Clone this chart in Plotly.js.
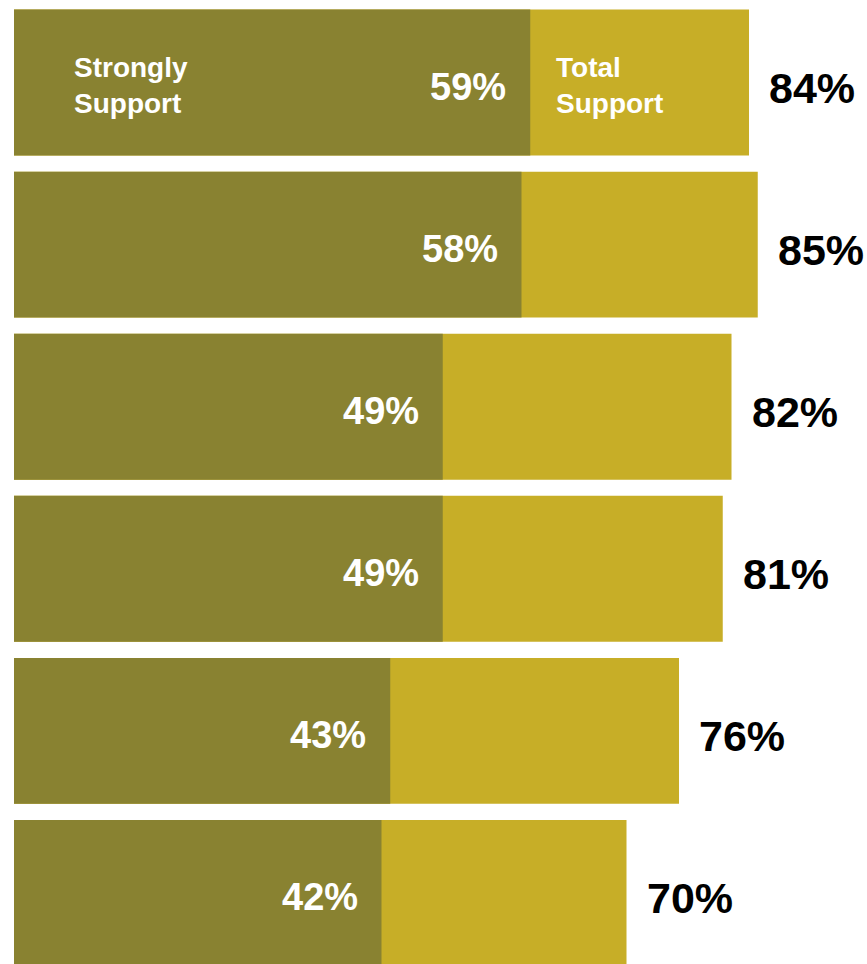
<!DOCTYPE html>
<html>
<head>
<meta charset="utf-8">
<script src="https://cdn.plot.ly/plotly-3.0.1.min.js"></script>
<style>html,body{margin:0;padding:0;background:#fff;}#chart{width:867px;height:964px;}</style>
</head>
<body>
<div id="chart"></div>
<script>
const rows = [0, 1, 2, 3, 4, 5];
const stronglySupport = [59, 58, 49, 49, 43, 42];
const totalSupport = [84, 85, 82, 81, 76, 70];
const seriesNames = ["Strongly Support", "Total Support"];

const colStrong = "#898231";
const colTotal = "#C7AE27";
const font = "Arial, 'Liberation Sans', sans-serif";

const traces = [
  {type: "bar", orientation: "h", y: rows, x: totalSupport, name: seriesNames[1],
   marker: {color: colTotal, line: {width: 0}}, width: 0.9, hoverinfo: "skip"},
  {type: "bar", orientation: "h", y: rows, x: stronglySupport, name: seriesNames[0],
   marker: {color: colStrong, line: {width: 0}}, width: 0.9, hoverinfo: "skip"}
];

const annotations = [];
rows.forEach((r, i) => {
  annotations.push({x: stronglySupport[i], y: r, xref: "x", yref: "y", xanchor: "right", yanchor: "middle",
    xshift: -22, yshift: -4, showarrow: false, text: "<b>" + stronglySupport[i] + "%</b>",
    font: {family: font, size: 38, color: "#ffffff"}});
  annotations.push({x: totalSupport[i], y: r, xref: "x", yref: "y", xanchor: "left", yanchor: "middle",
    xshift: 18, yshift: -5, showarrow: false, text: "<b>" + totalSupport[i] + "%</b>",
    font: {family: font, size: 43, color: "#000000"}});
});
annotations.push({x: 0, y: rows[0], xref: "x", yref: "y", xanchor: "left", yanchor: "middle", align: "left",
  xshift: 58, yshift: -3, showarrow: false, text: "<b>Strongly<br>Support</b>",
  font: {family: font, size: 28, color: "#ffffff"}});
annotations.push({x: stronglySupport[0], y: rows[0], xref: "x", yref: "y", xanchor: "left", yanchor: "middle", align: "left",
  xshift: 24, yshift: -3, showarrow: false, text: "<b>Total<br>Support</b>",
  font: {family: font, size: 28, color: "#ffffff"}});

const layout = {
  width: 867, height: 964,
  margin: {l: 14, r: 0, t: 0, b: 0, pad: 0},
  barmode: "overlay",
  showlegend: false,
  paper_bgcolor: "#ffffff", plot_bgcolor: "#ffffff",
  xaxis: {range: [0, 853 / 8.75], showgrid: false, zeroline: false, showticklabels: false, ticks: "", showline: false, fixedrange: true},
  yaxis: {range: [5.438, -0.509], showgrid: false, zeroline: false, showticklabels: false, ticks: "", showline: false, fixedrange: true},
  annotations: annotations
};

Plotly.newPlot("chart", traces, layout, {displayModeBar: false, staticPlot: true});
</script>
</body>
</html>
